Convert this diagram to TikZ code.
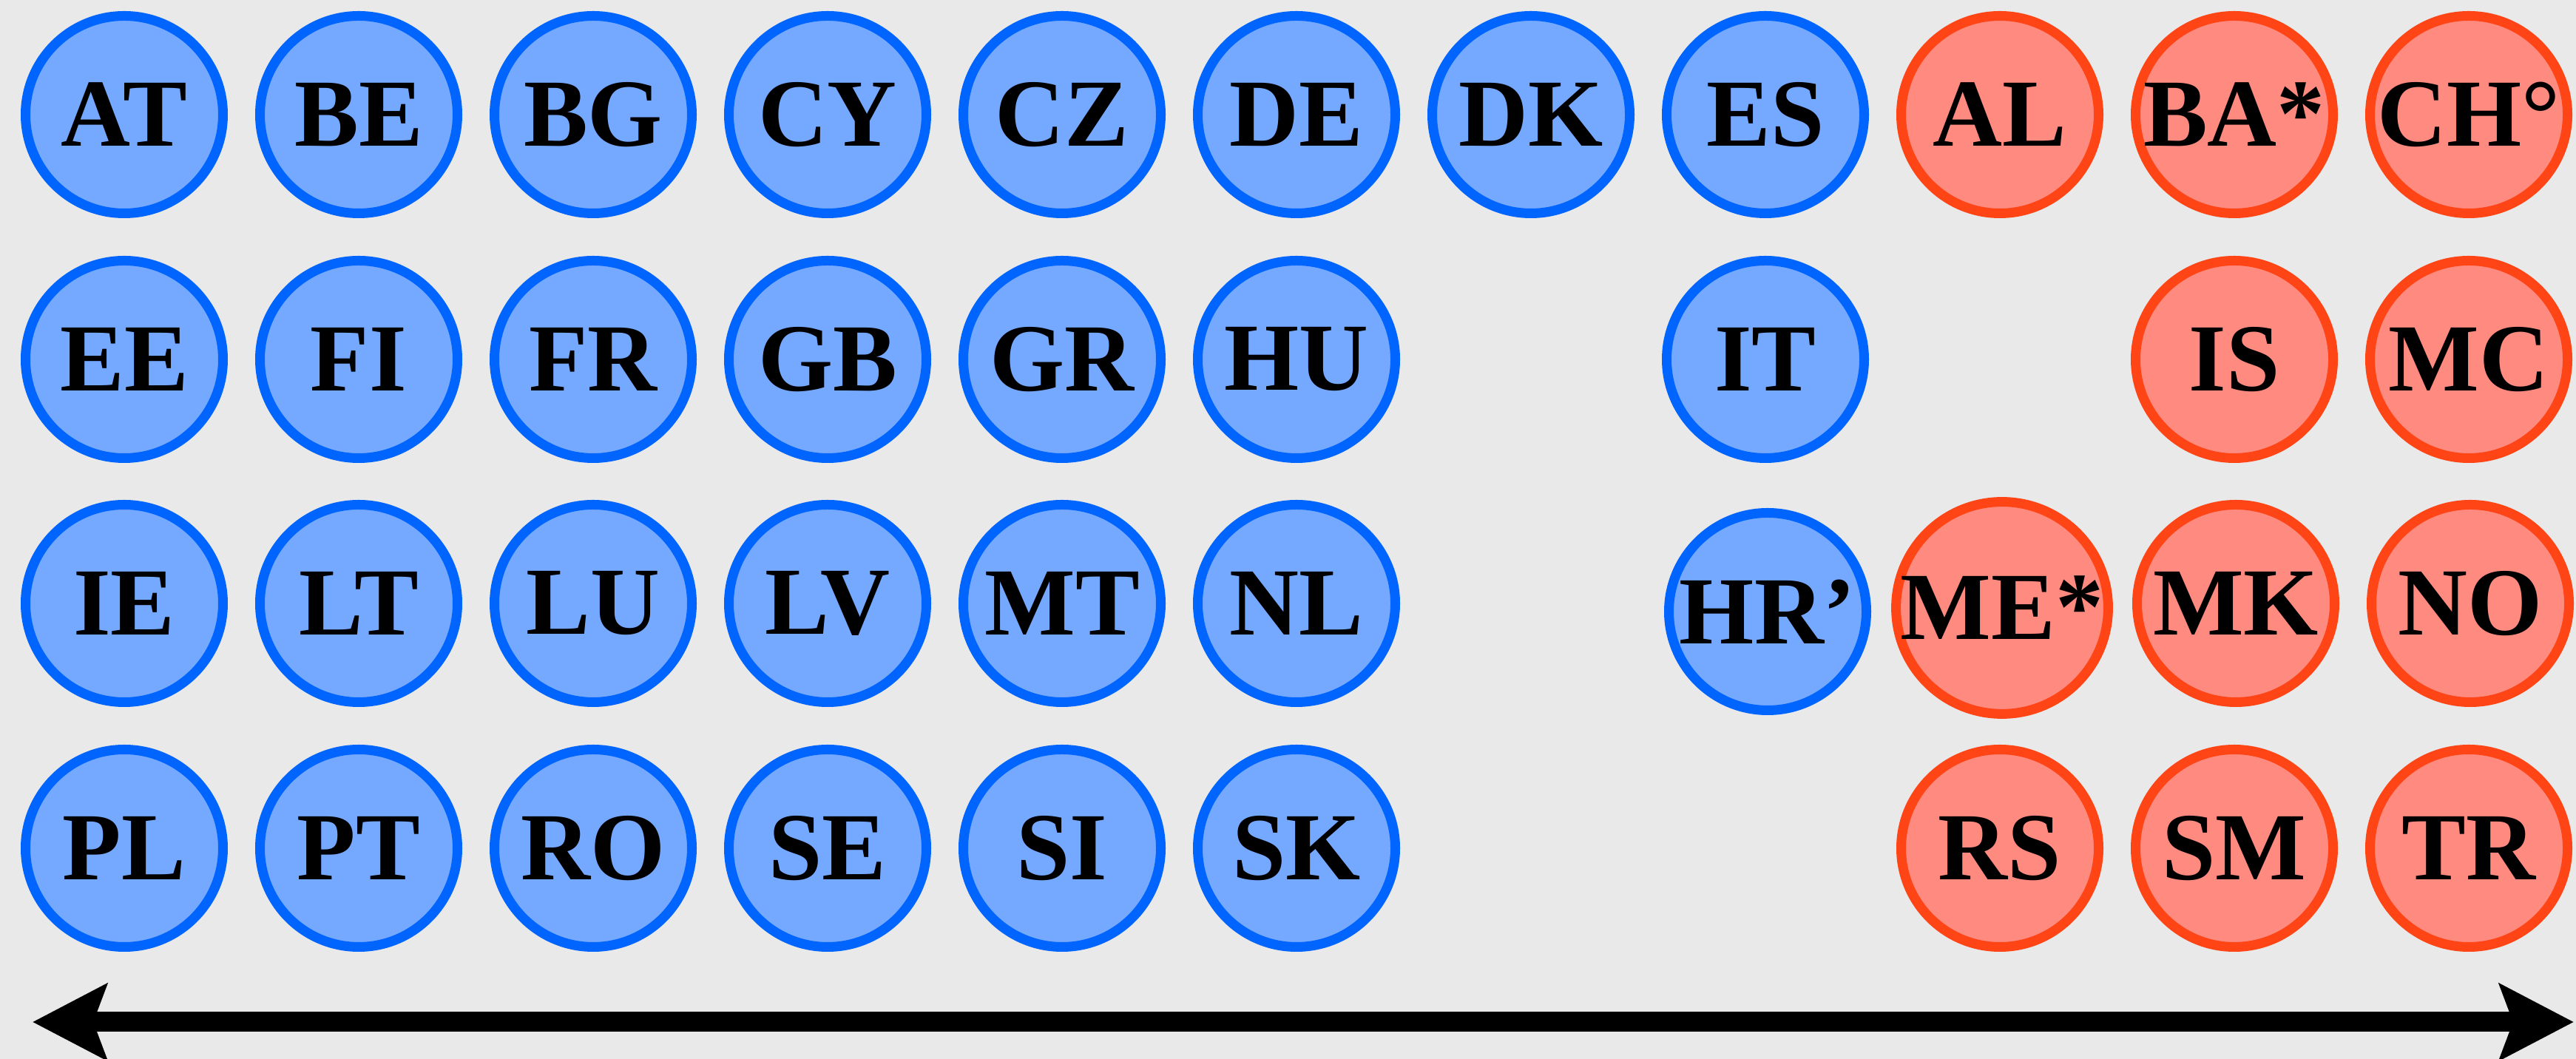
\documentclass[tikz,border=0pt]{standalone}
\usepackage{fontspec}
\setmainfont{Liberation Serif}
\usetikzlibrary{arrows.meta}
\definecolor{bgcol}{HTML}{E9E9E9}
\definecolor{bluestroke}{HTML}{0064FF}
\definecolor{bluefill}{HTML}{75A8FF}
\definecolor{redstroke}{HTML}{FF4416}
\definecolor{redfill}{HTML}{FF8A80}
\tikzset{
  country/.style={circle, minimum size=2.67cm, inner sep=0pt, line width=0.13cm,
    font=\fontsize{37}{40}\selectfont\bfseries, text=black},
  eu/.style={country, draw=bluestroke, fill=bluefill},
  noneu/.style={country, draw=redstroke, fill=redfill},
  bigarrow/.style={line width=0.27cm, {Stealth[length=1.0cm, width=1.02cm, inset=0.18cm]}-{Stealth[length=1.0cm, width=1.02cm, inset=0.18cm]}}
}
\begin{document}
\begin{tikzpicture}
\fill[bgcol] (0,0) rectangle (34.83,14.32);
\useasboundingbox (0,0) rectangle (34.83,14.32);
% row 1
\node[eu] (at) at (1.68,12.77) {AT};
\node[eu] (be) at (4.85,12.77) {BE};
\node[eu] (bg) at (8.02,12.77) {BG};
\node[eu] (cy) at (11.19,12.77) {CY};
\node[eu] (cz) at (14.36,12.77) {CZ};
\node[eu] (de) at (17.53,12.77) {DE};
\node[eu] (dk) at (20.70,12.77) {DK};
\node[eu] (es) at (23.87,12.77) {ES};
\node[noneu] (al) at (27.04,12.77) {AL};
\node[noneu] (ba) at (30.21,12.77) {BA*};
\node[noneu] (ch) at (33.38,12.77) {CH°};
% row 2
\node[eu] (ee) at (1.68,9.46) {EE};
\node[eu] (fi) at (4.85,9.46) {FI};
\node[eu] (fr) at (8.02,9.46) {FR};
\node[eu] (gb) at (11.19,9.46) {GB};
\node[eu] (gr) at (14.36,9.46) {GR};
\node[eu] (hu) at (17.53,9.46) {HU};
\node[eu] (it) at (23.87,9.46) {IT};
\node[noneu] (is) at (30.21,9.46) {IS};
\node[noneu] (mc) at (33.38,9.46) {MC};
% row 3
\node[eu] (ie) at (1.68,6.16) {IE};
\node[eu] (lt) at (4.85,6.16) {LT};
\node[eu] (lu) at (8.02,6.16) {LU};
\node[eu] (lv) at (11.19,6.16) {LV};
\node[eu] (mt) at (14.36,6.16) {MT};
\node[eu] (nl) at (17.53,6.16) {NL};
\node[eu] (hr) at (23.90,6.05) {HR’};
\node[noneu] (me) at (27.07,6.10) {ME*};
\node[noneu] (mk) at (30.23,6.16) {MK};
\node[noneu] (no) at (33.40,6.16) {NO};
% row 4
\node[eu] (pl) at (1.68,2.85) {PL};
\node[eu] (pt) at (4.85,2.85) {PT};
\node[eu] (ro) at (8.02,2.85) {RO};
\node[eu] (se) at (11.19,2.85) {SE};
\node[eu] (si) at (14.36,2.85) {SI};
\node[eu] (sk) at (17.53,2.85) {SK};
\node[noneu] (rs) at (27.04,2.85) {RS};
\node[noneu] (sm) at (30.21,2.85) {SM};
\node[noneu] (tr) at (33.38,2.85) {TR};
% arrow
\coordinate (L) at (0.44,0.50);
\coordinate (R) at (34.80,0.50);
\draw[bigarrow] (L) -- (R);
\end{tikzpicture}
\end{document}
